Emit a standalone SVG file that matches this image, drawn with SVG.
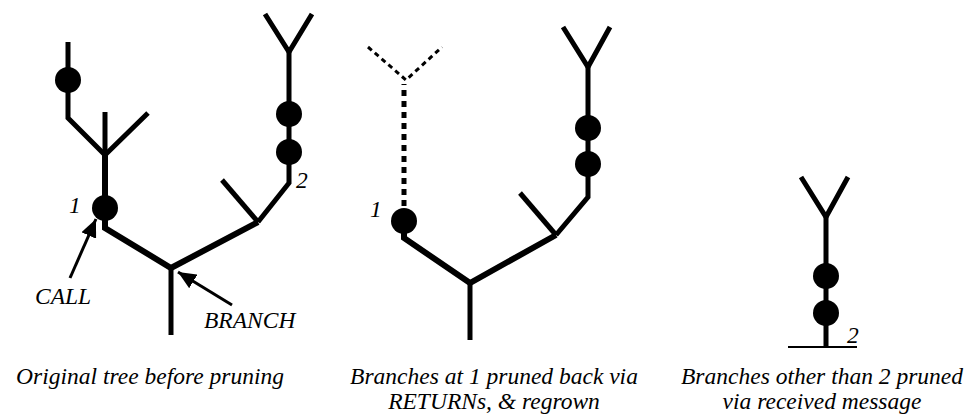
<svg xmlns="http://www.w3.org/2000/svg" width="971" height="418" viewBox="0 0 971 418">
  <style>
    .limb { fill: none; stroke: #000; stroke-width: 5; stroke-linecap: butt; stroke-linejoin: miter; }
    .main { stroke-width: 6; }
    .pruned { fill: none; stroke: #000; stroke-width: 5; stroke-dasharray: 6 5; }
    .pruned-tip { fill: none; stroke: #000; stroke-width: 3; stroke-dasharray: 5 4; }
    .point { fill: #000; }
    .pointer { fill: none; stroke: #000; stroke-width: 3; marker-end: url(#head); }
    .ground { stroke: #000; stroke-width: 2; }
    .label { font-size: 23.5px; }
    .caption { font-size: 23.5px; text-anchor: middle; }
  </style>
  <defs>
    <marker id="head" markerUnits="userSpaceOnUse" markerWidth="20" markerHeight="16" refX="18" refY="8" orient="auto">
      <path d="M0,0 L18,8 L0,16 Z" fill="#000"/>
    </marker>
  </defs>

  <rect width="971" height="418" fill="#fff"/>

  <g font-family="Liberation Serif, DejaVu Serif, serif" font-style="italic" fill="#000">

  <!-- Tree 1: the original call tree -->
  <g id="tree-original">
    <g id="tree-original-limbs">
      <path class="limb" d="M171,335 V268"/>
      <path class="limb main" d="M105,155 V228 L171,268 L258,222"/>
      <path class="limb" d="M258,222 L289,183 V52"/>
      <path class="limb" d="M258,222 L222,180"/>
      <path class="limb" d="M265,14 L289,52 L312,14"/>
      <path class="limb" d="M105,155 V112"/>
      <path class="limb" d="M68,42 V118 L105,155 L148,113"/>
    </g>
    <g id="tree-original-points">
      <circle class="point" cx="105" cy="208" r="13"/>
      <circle class="point" cx="68" cy="80" r="13"/>
      <circle class="point" cx="289" cy="114" r="13"/>
      <circle class="point" cx="289" cy="152" r="13"/>
    </g>
    <g id="tree-original-pointers">
      <path class="pointer" d="M70,278 L96,219"/>
      <path class="pointer" d="M232,305 L178,272"/>
    </g>
    <text class="label" x="69" y="213">1</text>
    <text class="label" x="296" y="188">2</text>
    <text class="label" x="35" y="304">CALL</text>
    <text class="label" x="204" y="328">BRANCH</text>
  </g>

  <!-- Tree 2: branch at 1 cut back and regrown -->
  <g id="tree-regrown">
    <g id="tree-regrown-limbs">
      <path class="limb" d="M470,340 V283"/>
      <path class="limb main" d="M404,221 V238 L470,283 L556,235"/>
      <path class="limb" d="M556,235 L588,197 V67"/>
      <path class="limb" d="M556,235 L520,193"/>
      <path class="limb" d="M563,27 L588,67 L610,27"/>
      <path class="pruned" d="M404,206 V84"/>
      <path class="pruned-tip" d="M368,47 L406,80 L442,47"/>
    </g>
    <g id="tree-regrown-points">
      <circle class="point" cx="404" cy="221" r="13"/>
      <circle class="point" cx="588" cy="128" r="13"/>
      <circle class="point" cx="588" cy="164" r="13"/>
    </g>
    <text class="label" x="370" y="217">1</text>
  </g>

  <!-- Tree 3: only the branch from 2 kept -->
  <g id="tree-kept">
    <g id="tree-kept-limbs">
      <path class="ground" d="M788,347 H857"/>
      <path class="limb" d="M826,347 V217"/>
      <path class="limb" d="M801,177 L826,217 L848,177"/>
    </g>
    <g id="tree-kept-points">
      <circle class="point" cx="826" cy="276" r="13"/>
      <circle class="point" cx="826" cy="313" r="13"/>
    </g>
    <text class="label" x="847" y="343">2</text>
  </g>

  <g id="captions">
    <text class="caption" x="150" y="384">Original tree before pruning</text>
    <text class="caption" x="494" y="384">Branches at 1 pruned back via</text>
    <text class="caption" x="494" y="409">RETURNs, &amp; regrown</text>
    <text class="caption" x="822" y="384">Branches other than 2 pruned</text>
    <text class="caption" x="822" y="409">via received message</text>
  </g>

  </g>
</svg>
